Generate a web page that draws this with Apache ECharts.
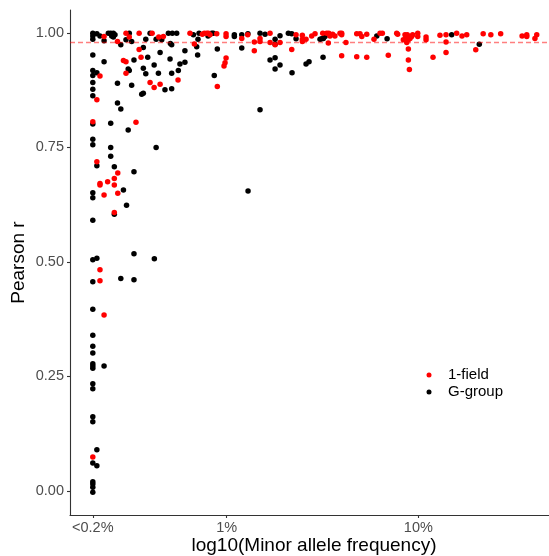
<!DOCTYPE html>
<html><head><meta charset="utf-8">
<script src="https://cdn.jsdelivr.net/npm/echarts@6/dist/echarts.min.js"></script>
<style>html,body{margin:0;padding:0;background:#fff}#c{width:549px;height:556px}</style>
</head><body><div id="c"></div>
<script>
// Tick labels / axis settings (data units)
const xTickValues = [0.2, 1, 10];           // minor allele frequency, %
const xTickLabels = ['<0.2%', '1%', '10%'];
const yTickValues = [0, 0.25, 0.5, 0.75, 1];
const refLine = 0.979;
const seriesNames = ['1-field', 'G-group'];

// [MAF %, Pearson r]
const fieldPoints = [
 [0.2,0.806],[0.2,0.074],
 [0.21,0.854],[0.21,0.719],
 [0.218,0.906],[0.218,0.483],[0.218,0.459],[0.218,0.671],[0.218,0.668],
 [0.229,0.992],[0.229,0.384],[0.229,0.646],
 [0.239,0.675],
 [0.259,0.682],[0.259,0.668],[0.259,0.608],
 [0.269,0.981],
 [0.270,0.694],[0.270,0.650],
 [0.289,0.940],
 [0.298,0.999],[0.298,0.937],[0.298,0.912],
 [0.310,0.991],[0.336,0.805],
 [0.349,0.999],[0.349,0.964],[0.357,0.947],
 [0.398,0.892],[0.408,0.999],[0.418,0.881],[0.442,0.991],[0.449,0.888],[0.467,0.992],
 [0.557,0.897],[0.643,0.999],[0.678,0.976],[0.746,0.997],[0.764,0.999],[0.787,0.999],
 [0.802,0.999],[0.818,0.996],[0.887,0.998],[0.893,0.883],
 [0.968,0.928],[0.980,0.935],[0.992,0.945],[0.992,0.998],[0.992,0.992],
 [1.198,0.988],[1.287,0.996],[1.393,0.980],[1.393,0.961],[1.492,0.988],[1.492,0.981],
 [1.683,0.999],[1.683,0.979],[1.788,0.974],[1.897,0.979],[2.184,0.964],[2.30,0.996],
 [2.481,0.995],[2.481,0.986],[2.481,0.981],[2.594,0.986],[2.777,0.993],[2.89,0.998],
 [3.17,0.999],[3.325,0.999],[3.41,0.999],[3.46,0.993],[3.57,0.997],[3.67,0.993],[3.39,0.978],
 [3.90,0.999],[3.98,0.999],[3.98,0.996],[3.98,0.950],[4.19,0.979],
 [4.77,0.998],[4.77,0.948],[4.96,0.998],[5.07,0.992],[5.38,0.997],[5.38,0.947],
 [5.87,0.986],[6.31,0.999],[6.49,0.999],[6.97,0.951],[7.71,0.999],[7.80,0.997],
 [8.35,0.985],[8.52,0.996],[8.62,0.992],[8.70,0.979],[8.76,0.996],
 [8.87,0.985],[8.87,0.965],[8.87,0.941],[8.98,0.920],[9.05,0.988],[9.23,0.992],[9.34,0.996],
 [9.93,0.999],[9.93,0.992],[10.97,0.991],[10.97,0.985],[11.93,0.947],[12.97,0.995],
 [13.95,0.996],[13.95,0.980],[13.95,0.957],[15.85,0.999],[16.9,0.993],[17.89,0.996],
 [19.94,0.963],[21.8,0.998],[23.9,0.996],[26.9,0.998],[34.8,0.993],[36.8,0.996],[36.8,0.992],
 [40.6,0.988],[41.5,0.996]
];

const gGroupPoints = [
 [0.2,0.999],[0.2,0.993],[0.2,0.986],[0.2,0.952],[0.2,0.918],[0.2,0.907],[0.2,0.892],[0.2,0.877],
 [0.2,0.863],[0.2,0.801],[0.2,0.768],[0.2,0.756],[0.2,0.651],[0.2,0.640],[0.2,0.591],[0.2,0.505],
 [0.2,0.457],[0.2,0.397],[0.2,0.340],[0.2,0.316],[0.2,0.301],[0.2,0.278],[0.2,0.273],[0.2,0.268],
 [0.2,0.234],[0.2,0.223],[0.2,0.162],[0.2,0.151],[0.2,0.061],[0.2,0.020],[0.2,0.015],[0.2,0.008],[0.2,-0.003],
 [0.21,0.998],[0.21,0.913],[0.21,0.710],[0.21,0.508],[0.21,0.090],[0.21,0.055],
 [0.218,0.993],
 [0.229,0.983],[0.229,0.937],[0.229,0.273],
 [0.241,0.999],
 [0.248,0.999],[0.248,0.803],[0.248,0.750],[0.248,0.731],
 [0.251,0.993],[0.256,0.999],[0.256,0.991],[0.261,0.996],
 [0.259,0.708],[0.259,0.604],
 [0.269,0.890],[0.269,0.847],
 [0.280,0.974],[0.280,0.834],[0.280,0.464],
 [0.289,0.657],[0.298,0.985],[0.300,0.624],
 [0.306,0.921],[0.306,0.788],[0.310,0.999],[0.310,0.918],
 [0.319,0.981],[0.319,0.886],
 [0.328,0.941],[0.328,0.697],[0.328,0.518],[0.328,0.461],
 [0.360,0.866],[0.367,0.968],[0.367,0.923],[0.367,0.868],
 [0.378,0.986],[0.378,0.911],[0.387,0.947],[0.398,0.999],
 [0.418,0.930],[0.419,0.507],[0.428,0.986],[0.428,0.750],
 [0.440,0.912],[0.449,0.957],[0.458,0.985],[0.476,0.876],[0.496,0.999],
 [0.506,0.943],[0.508,0.977],[0.516,0.974],[0.516,0.912],[0.516,0.878],
 [0.520,0.999],[0.548,0.999],[0.559,0.918],[0.570,0.932],[0.605,0.961],[0.605,0.936],
 [0.670,0.996],[0.697,0.970],[0.705,0.952],[0.708,0.986],[0.717,0.999],
 [0.799,0.993],[0.835,0.999],[0.851,0.999],[0.861,0.907],[0.893,0.965],
 [1.096,0.996],[1.096,0.992],[1.198,0.996],[1.198,0.967],[1.29,0.998],[1.292,0.655],
 [1.492,0.999],[1.492,0.832],[1.585,0.997],[1.683,0.941],
 [1.788,0.986],[1.788,0.975],[1.788,0.946],[1.788,0.921],[1.897,0.994],[1.897,0.930],
 [2.097,0.999],[2.184,0.998],[2.192,0.913],[2.30,0.987],[2.594,0.932],[2.689,0.937],
 [3.069,0.986],[3.131,0.987],[3.194,0.988],[3.258,0.992],[3.258,0.997],[3.182,0.947],
 [6.07,0.993],[6.87,0.987],[14.93,0.996],[20.8,0.975]
];

const toLog = p => [Math.log10(p[0]), p[1]];
const xTickLog = xTickValues.map(v => Math.log10(v));

const chart = echarts.init(document.getElementById('c'), null, {renderer: 'canvas'});
const font = '"Liberation Sans", Arial, Helvetica, sans-serif';
const axisLineStyle = {show: true, onZero: false, lineStyle: {color: '#333333', width: 1.1}};
const tickStyle = {show: true, length: 3, lineStyle: {color: '#333333', width: 1.1}};

chart.setOption({
  animation: false,
  backgroundColor: '#ffffff',
  textStyle: {fontFamily: font},
  grid: {left: 70, right: 0, top: 10, bottom: 41, containLabel: false, outerBoundsMode: 'none'},
  xAxis: {
    type: 'value',
    min: -0.818, max: 1.682,
    axisLine: axisLineStyle,
    splitLine: {show: false},
    axisTick: Object.assign({}, tickStyle, {customValues: xTickLog}),
    axisLabel: {
      customValues: xTickLog, margin: 5, fontSize: 14.5, color: '#4d4d4d', fontFamily: font,
      formatter: v => {
        const i = xTickLog.findIndex(t => Math.abs(t - v) < 1e-6);
        return i >= 0 ? xTickLabels[i] : '';
      }
    },
    name: 'log10(Minor allele frequency)',
    nameLocation: 'middle', nameGap: 21, nameMoveOverlap: false,
    nameTextStyle: {fontSize: 19, color: '#000', fontFamily: font, padding: [0, 0, 0, 9]}
  },
  yAxis: {
    type: 'value',
    min: -0.0524, max: 1.050,
    axisLine: axisLineStyle,
    splitLine: {show: false},
    axisTick: Object.assign({}, tickStyle, {customValues: yTickValues}),
    axisLabel: {
      customValues: yTickValues, margin: 6, fontSize: 14.5, color: '#4d4d4d', fontFamily: font,
      formatter: v => v.toFixed(2)
    },
    name: 'Pearson r',
    nameLocation: 'middle', nameGap: 42, nameRotate: 90, nameMoveOverlap: false,
    nameTextStyle: {fontSize: 19, color: '#000', fontFamily: font}
  },
  legend: {
    data: seriesNames,
    orient: 'vertical',
    left: 421.5, top: 362.5,
    icon: 'circle', itemWidth: 5, itemHeight: 5,
    itemGap: 2,
    textStyle: {fontSize: 15, color: '#000', fontFamily: font, lineHeight: 15, padding: [0, 0, 0, 11.5]}
  },
  series: [
    {
      type: 'scatter', name: 'ref', data: [], z: 1, silent: true,
      markLine: {
        silent: true, symbol: 'none', animation: false,
        label: {show: false},
        lineStyle: {color: 'rgba(255,0,0,0.5)', type: [5, 3], width: 1.3},
        data: [{yAxis: refLine}]
      }
    },
    {
      type: 'scatter', name: seriesNames[1], z: 2,
      symbol: 'circle', symbolSize: 5.5,
      itemStyle: {color: '#000000', opacity: 1},
      data: gGroupPoints.map(toLog)
    },
    {
      type: 'scatter', name: seriesNames[0], z: 3,
      symbol: 'circle', symbolSize: 5.5,
      itemStyle: {color: '#ff0000', opacity: 1},
      data: fieldPoints.map(toLog)
    }
  ]
});
</script>
</body></html>
